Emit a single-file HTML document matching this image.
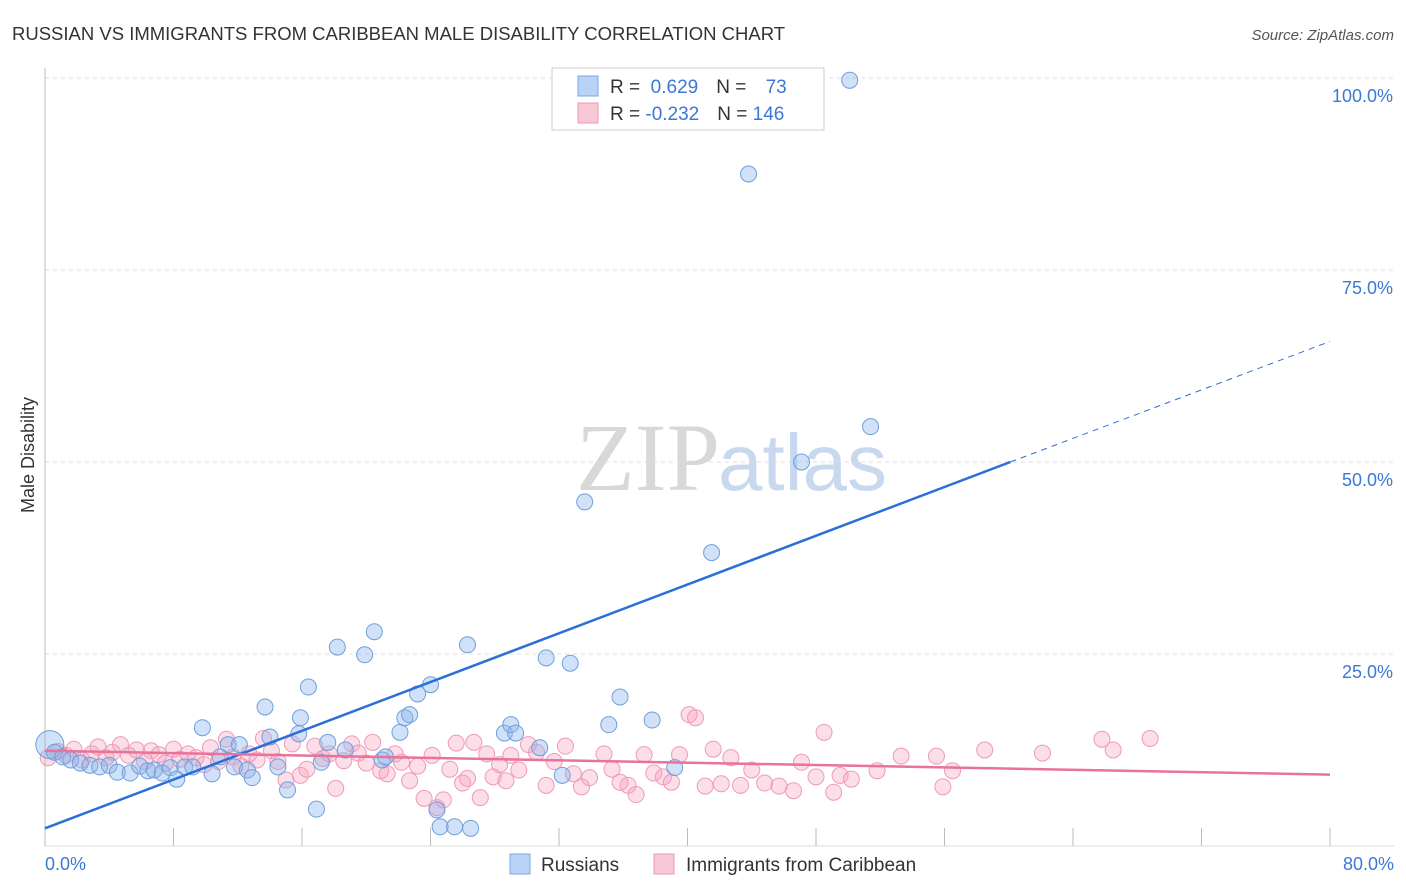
<!DOCTYPE html>
<html><head><meta charset="utf-8"><style>
body{margin:0;background:#fff;font-family:"Liberation Sans",sans-serif;}
#wrap{position:relative;width:1406px;height:892px;overflow:hidden}
</style></head><body>
<div id="wrap">
<svg id="svg" width="1406" height="892">
<text x="12" y="40" font-size="18.5" fill="#333">RUSSIAN VS IMMIGRANTS FROM CARIBBEAN MALE DISABILITY CORRELATION CHART</text>
<text x="1394" y="40" font-size="15" fill="#555" font-style="italic" text-anchor="end">Source: ZipAtlas.com</text>
<text x="34" y="455" font-size="18" fill="#333" text-anchor="middle" transform="rotate(-90 34 455)">Male Disability</text>
<text x="720" y="490" font-size="96" fill="#d8d8d8" text-anchor="end" font-family="Liberation Serif">ZIP</text>
<text x="718" y="490" font-size="80" fill="#c8d8ee">atlas</text>
<g id="grid"></g><g id="pink"></g><g id="blue"></g><g id="lines"></g>
<text x="45" y="870" font-size="18" fill="#3a78d6">0.0%</text>
<text x="1394" y="870" font-size="18" fill="#3a78d6" text-anchor="end">80.0%</text>
<g>
<rect x="552" y="68" width="272" height="62" fill="#fff" stroke="#ccc"/>
<rect x="578" y="76" width="20" height="20" fill="#b8d3f5" stroke="#7aa7e0"/>
<rect x="578" y="103" width="20" height="20" fill="#f9c6d5" stroke="#eb9ab5"/>
<text x="610" y="93" font-size="19" fill="#333">R = <tspan fill="#3a78d6">&#160;0.629</tspan><tspan dx="18">N = </tspan><tspan fill="#3a78d6" dx="14">73</tspan></text>
<text x="610" y="120" font-size="19" fill="#333">R = <tspan fill="#3a78d6">-0.232</tspan><tspan dx="18">N = </tspan><tspan fill="#3a78d6">146</tspan></text>
</g>
<g>
<rect x="510" y="854" width="20" height="20" fill="#b8d3f5" stroke="#7aa7e0"/>
<text x="541" y="871" font-size="19" fill="#333">Russians</text>
<rect x="654" y="854" width="20" height="20" fill="#f9c6d5" stroke="#eb9ab5"/>
<text x="686" y="871" font-size="19" fill="#333">Immigrants from Caribbean</text>
</g>
</svg></div>
<script>
const yTicks=[25,50,75,100];
const xTicks=[0,8,16,24,32,40,48,56,64,72,80];
const blueX=[0.3,0.6,1.1,1.6,2.2,2.8,3.4,4.0,4.5,5.3,5.9,6.4,6.8,7.3,7.8,8.2,8.7,9.2,9.8,10.4,10.9,11.4,11.8,12.1,12.6,12.9,13.7,14.0,14.5,15.1,15.8,15.9,16.4,16.9,17.2,17.6,18.2,18.7,19.9,20.5,21.0,21.2,22.1,22.4,22.7,23.2,24.0,24.4,24.6,25.5,26.3,26.5,28.6,29.0,29.3,30.8,31.2,32.2,32.7,33.6,35.1,35.8,37.8,39.2,41.5,43.8,47.1,50.1,51.4];
const blueY=[13.2,12.2,11.6,11.2,10.8,10.5,10.3,10.5,9.6,9.5,10.4,9.8,9.9,9.5,10.2,8.7,10.3,10.3,15.4,9.4,11.6,13.2,10.3,13.2,9.9,8.9,18.1,14.2,10.3,7.3,14.6,16.7,20.7,4.8,10.9,13.5,25.9,12.5,24.9,27.9,11.2,11.6,14.8,16.7,17.1,19.8,21.0,4.7,2.5,2.5,26.2,2.3,14.7,15.8,14.7,12.8,24.5,9.2,23.8,44.8,15.8,19.4,16.4,10.2,38.2,87.5,50.0,99.7,54.6];
const pinkX=[0.2,0.8,1.3,1.8,2.3,2.9,3.3,3.8,4.2,4.7,5.2,5.7,6.2,6.6,7.1,7.5,8.0,8.4,8.9,9.4,9.9,10.3,10.8,11.3,11.7,12.2,12.7,13.2,13.6,14.1,14.5,15.0,15.4,15.9,16.3,16.8,17.3,17.7,18.1,18.6,19.1,19.5,20.0,20.4,20.9,21.3,21.8,22.2,22.7,23.2,23.6,24.1,24.4,24.8,25.2,25.6,26.0,26.3,26.7,27.1,27.5,27.9,28.3,28.7,29.0,29.5,30.1,30.6,31.2,31.7,32.4,32.9,33.4,33.9,34.8,35.3,35.8,36.3,36.8,37.3,37.9,38.5,39.0,39.5,40.1,40.5,41.1,41.6,42.1,42.7,43.3,44.0,44.8,45.7,46.6,47.1,48.0,48.5,49.1,49.5,50.2,51.8,53.3,55.5,55.9,56.5,58.5,62.1,65.8,66.5,68.8];
const pinkY=[11.5,12.3,11.8,12.6,11.2,12.0,12.9,11.5,12.2,13.2,11.8,12.5,11.0,12.4,11.9,10.8,12.6,11.3,12.0,11.5,10.6,12.8,11.0,13.9,11.6,10.4,12.0,11.2,14.0,12.4,11.0,8.6,13.3,9.2,10.0,13.0,11.4,12.0,7.5,11.1,13.3,12.1,10.8,13.5,9.8,9.4,12.0,10.9,8.5,10.4,6.2,11.8,5.0,6.0,10.0,13.4,8.2,8.8,13.5,6.3,12.0,9.0,10.6,8.5,11.8,9.9,13.2,12.2,7.9,11.0,13.0,9.4,7.7,8.9,12.0,10.0,8.3,7.9,6.7,11.9,9.5,9.0,8.3,11.9,17.1,16.7,7.8,12.6,8.1,11.5,7.9,9.9,8.2,7.8,7.2,10.9,9.0,14.8,7.0,9.2,8.7,9.8,11.7,11.7,7.7,9.8,12.5,12.1,13.9,12.5,14.0];
const blueTrend=[[0,2.3],[60.1,50.0],[80,65.7]];
const pinkTrend=[[0,12.4],[80,9.3]];
const sx=v=>45+v/80*1285, sy=v=>846-v*7.68;
const NS='http://www.w3.org/2000/svg';
function mk(t,a,p){const e=document.createElementNS(NS,t);for(const k in a)e.setAttribute(k,a[k]);p.appendChild(e);return e;}
const grid=document.getElementById('grid');
for(const t of yTicks){
 const l=mk('line',{x1:45,x2:1394,y1:sy(t),y2:sy(t),stroke:'#ddd','stroke-dasharray':'4,4'},grid);
 
 
 const tx=mk('text',{x:1393,y:sy(t)+24,'font-size':18,fill:'#3a78d6','text-anchor':'end'},grid);tx.textContent=t.toFixed(1)+'%';
 
 
}
mk('line',{x1:45,x2:45,y1:68,y2:846,stroke:'#bbb'},grid);
mk('line',{x1:45,x2:1394,y1:846,y2:846,stroke:'#ddd'},grid);
for(const t of xTicks){
 const l=mk('line',{x1:sx(t),x2:sx(t),y1:828,y2:846,stroke:'#bbb'},grid);
 
 
}
const pg=document.getElementById('pink');
pinkX.forEach((x,i)=>{const c=mk('circle',{cx:sx(x),cy:sy(pinkY[i]),r:8,fill:'rgba(245,160,190,0.35)',stroke:'#ee9ab6','stroke-width':1},pg);
 
 });
const bg=document.getElementById('blue');
blueX.forEach((x,i)=>{const c=mk('circle',{cx:sx(x),cy:sy(blueY[i]),r:i==0?14:8,fill:'rgba(140,180,235,0.4)',stroke:'#6f9fdc','stroke-width':1},bg);
 
 });
const lg=document.getElementById('lines');
const b1=mk('line',{x1:sx(blueTrend[0][0]),y1:sy(blueTrend[0][1]),x2:sx(blueTrend[1][0]),y2:sy(blueTrend[1][1]),stroke:'#2a6fd8','stroke-width':2.5},lg);


const b2=mk('line',{x1:sx(blueTrend[1][0]),y1:sy(blueTrend[1][1]),x2:sx(blueTrend[2][0]),y2:sy(blueTrend[2][1]),stroke:'#2a6fd8','stroke-width':1,'stroke-dasharray':'6,5'},lg);


const p1=mk('line',{x1:sx(pinkTrend[0][0]),y1:sy(pinkTrend[0][1]),x2:sx(pinkTrend[1][0]),y2:sy(pinkTrend[1][1]),stroke:'#e8729a','stroke-width':2.5},lg);


</script>
</body></html>
